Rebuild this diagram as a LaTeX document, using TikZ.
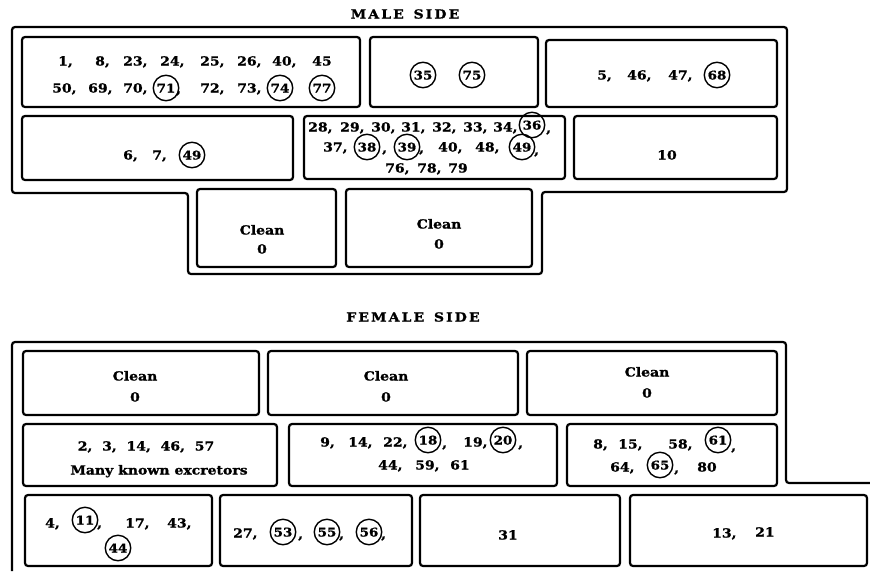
\documentclass[tikz,border=0pt]{standalone}
\usepackage{fontspec}
\newfontfamily\nf{DejaVu Serif}[FakeStretch=1.12, FakeBold=1.2]
\tikzset{
  box/.style={draw, line width=2.2pt, rounded corners=3pt, inner sep=0pt},
  outline/.style={draw, line width=2.2pt, rounded corners=3pt},
  tok/.style={anchor=west, inner sep=0pt, text height=9pt, text depth=0pt, font=\nf\bfseries\fontsize{12.5}{14}\selectfont},
  ctok/.style={tok, anchor=center},
  cnum/.style={draw, circle, line width=1.4pt, minimum size=25.5pt, inner sep=0pt, text height=9pt, text depth=0pt, font=\nf\bfseries\fontsize{12}{14}\selectfont},
  ttl/.style={inner sep=0pt, font=\nf\bfseries\fontsize{12.5}{14}\selectfont}
}
\newcommand\Rm[5]{\node[box, minimum width={(#4-#2)*1pt}, minimum height={(#5-#3)*1pt}] (#1) at ({(#2+#4)/2},{(#3+#5)/2}) {};}
\newcommand\Tok[4]{\node[tok] (#1) at (#2,#3) {#4};}
\newcommand\Ctok[4]{\node[ctok] (#1) at (#2,#3) {#4};}
\newcommand\Cir[4]{\node[cnum] (#1) at (#2,#3) {#4};}
\begin{document}
\begin{tikzpicture}[x=1pt,y=-1pt]
\useasboundingbox (0,0) rectangle (870,571);
% ---------------- MALE SIDE ----------------
\node[ttl] (mt) at (405,14) {M\,A\,L\,E\ \ S\,I\,D\,E};
\draw[outline] (12,27) -- (787,27) -- (787,192) -- (542,192) -- (542,274) -- (188,274) -- (188,193) -- (12,193) -- cycle;
\Rm{mA}{22}{37}{360}{107}
\Rm{mB}{370}{37}{538}{107}
\Rm{mC}{546}{40}{777}{107}
\Rm{mD}{22}{116}{293}{180}
\Rm{mE}{304}{116}{565}{179}
\Rm{mF}{574}{116}{777}{179}
\Rm{mG}{197}{189}{336}{267}
\Rm{mH}{346}{189}{532}{267}
% box A
\Tok{a1}{58}{61}{1,}
\Tok{a2}{95}{61}{8,}
\Tok{a3}{123}{61}{23,}
\Tok{a4}{160}{61}{24,}
\Tok{a5}{200}{61}{25,}
\Tok{a6}{237}{61}{26,}
\Tok{a7}{272}{61}{40,}
\Tok{a8}{312}{61}{45}
\Tok{a9}{52}{88}{50,}
\Tok{a10}{88}{88}{69,}
\Tok{a11}{123}{88}{70,}
\Cir{a12}{166}{88}{71}
\Tok{a13}{176}{89}{,}
\Tok{a14}{200}{88}{72,}
\Tok{a15}{237}{88}{73,}
\Cir{a16}{280}{88}{74}
\Cir{a17}{322}{88}{77}
% box B
\Cir{b1}{423}{75}{35}
\Cir{b2}{472}{75}{75}
% box C
\Tok{c1}{597}{75}{5,}
\Tok{c2}{627}{75}{46,}
\Tok{c3}{668}{75}{47,}
\Cir{c4}{717}{75}{68}
% box D
\Tok{d1}{123}{155}{6,}
\Tok{d2}{152}{155}{7,}
\Cir{d3}{192}{155}{49}
% box E
\Tok{e1}{308}{127}{28,}
\Tok{e2}{340}{127}{29,}
\Tok{e3}{371}{127}{30,}
\Tok{e4}{401}{127}{31,}
\Tok{e5}{432}{127}{32,}
\Tok{e6}{463}{127}{33,}
\Tok{e7}{493}{127}{34,}
\Cir{e8}{532}{125}{36}
\Tok{e9}{546}{128}{,}
\Tok{e10}{323}{147}{37,}
\Cir{e11}{367}{147}{38}
\Tok{e12}{382}{148}{,}
\Cir{e13}{407}{147}{39}
\Tok{e14}{419}{148}{,}
\Tok{e15}{438}{147}{40,}
\Tok{e16}{475}{147}{48,}
\Cir{e17}{522}{147}{49}
\Tok{e18}{534}{150}{,}
\Tok{e19}{385}{168}{76,}
\Tok{e20}{417}{168}{78,}
\Tok{e21}{448}{168}{79}
% box F
\Ctok{f1}{667}{155}{10}
% box G, H
\Ctok{g1}{262}{230}{Clean}
\Ctok{g2}{262}{249}{0}
\Ctok{h1}{439}{224}{Clean}
\Ctok{h2}{439}{244}{0}
% ---------------- FEMALE SIDE ----------------
\node[ttl] (ft) at (413,317) {F\,E\,M\,A\,L\,E\ \ S\,I\,D\,E};
\draw[outline] (12,571) -- (12,342) -- (786,342) -- (786,483) -- (870,483);
\Rm{f1b}{23}{351}{259}{415}
\Rm{f2b}{268}{351}{518}{415}
\Rm{f3b}{527}{351}{777}{415}
\Rm{f4b}{23}{424}{277}{486}
\Rm{f5b}{289}{424}{557}{486}
\Rm{f6b}{567}{424}{777}{486}
\Rm{f7b}{25}{495}{212}{566}
\Rm{f8b}{220}{495}{412}{566}
\Rm{f9b}{420}{495}{620}{566}
\Rm{f10b}{630}{495}{867}{566}
% row 1
\Ctok{r1a}{135}{376}{Clean}
\Ctok{r1b}{135}{397}{0}
\Ctok{r2a}{386}{376}{Clean}
\Ctok{r2b}{386}{397}{0}
\Ctok{r3a}{647}{372}{Clean}
\Ctok{r3b}{647}{393}{0}
% box 4
\Ctok{s1}{146}{446}{2,\ \ 3,\ \ 14,\ \ 46,\ \ 57}
\Ctok{s2}{159}{470}{Many known excretors}
% box 5
\Tok{u1}{320}{442}{9,}
\Tok{u2}{348}{442}{14,}
\Tok{u3}{383}{442}{22,}
\Cir{u4}{428}{440}{18}
\Tok{u5}{442}{443}{,}
\Tok{u6}{463}{442}{19,}
\Cir{u7}{503}{440}{20}
\Tok{u8}{518}{443}{,}
\Tok{u9}{378}{465}{44,}
\Tok{u10}{415}{465}{59,}
\Tok{u11}{450}{465}{61}
% box 6
\Tok{v1}{593}{444}{8,}
\Tok{v2}{618}{444}{15,}
\Tok{v3}{668}{444}{58,}
\Cir{v4}{718}{440}{61}
\Tok{v5}{731}{446}{,}
\Tok{v6}{610}{467}{64,}
\Cir{v7}{660}{465}{65}
\Tok{v8}{674}{468}{,}
\Tok{v9}{697}{467}{80}
% box 7
\Tok{w1}{45}{523}{4,}
\Cir{w2}{85}{520}{11}
\Tok{w3}{97}{523}{,}
\Tok{w4}{125}{523}{17,}
\Tok{w5}{167}{523}{43,}
\Cir{w6}{118}{548}{44}
% box 8
\Tok{x1}{233}{533}{27,}
\Cir{x2}{283}{532}{53}
\Tok{x3}{298}{534}{,}
\Cir{x4}{327}{532}{55}
\Tok{x5}{339}{534}{,}
\Cir{x6}{369}{532}{56}
\Tok{x7}{381}{534}{,}
% box 9, 10
\Ctok{y1}{508}{535}{31}
\Tok{z1}{712}{533}{13,}
\Tok{z2}{755}{532}{21}
\end{tikzpicture}
\end{document}
